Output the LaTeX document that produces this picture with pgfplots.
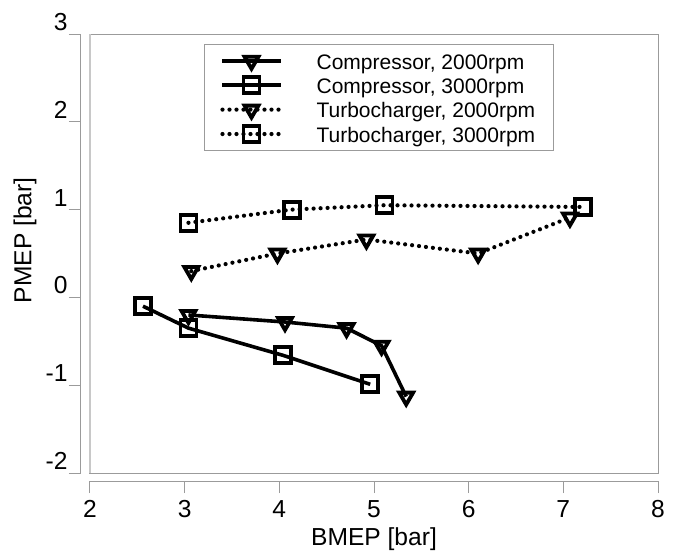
\documentclass[border=0pt]{standalone}
\usepackage{fontspec}
\setmainfont{Liberation Sans}
\usepackage{pgfplots}
\pgfplotsset{compat=1.18}
\usetikzlibrary{calc}
\definecolor{boxgray}{RGB}{155,155,155}
\definecolor{edgegray}{RGB}{200,200,200}

\begin{document}
\begin{tikzpicture}
\begin{axis}[
  name=ax,
  scale only axis,
  width=284pt, height=219.5pt,
  xmin=2, xmax=8, ymin=-2, ymax=3,
  xtick={2,...,8}, ytick={-2,...,3},
  axis x line*=bottom, axis y line*=left,
  axis x line shift=4pt, axis y line shift=4.5pt,
  axis line style={boxgray, line width=0.5pt},
  tick align=outside, major tick length=6pt,
  tick style={boxgray, line width=0.5pt},
  /pgf/number format/assume math mode=true,
  ticklabel style={font=\fontsize{12.3}{14}\selectfont},
  yticklabel style={yshift=6pt, inner sep=0.5pt},
  xlabel={BMEP [bar]}, ylabel={PMEP [bar]},
  every axis x label/.style={at={(axis description cs:0.5,-0.15)}, anchor=center, inner sep=0pt, font=\fontsize{12.3}{14}\selectfont},
  every axis y label/.style={at={(axis description cs:-0.1144,0.53)}, anchor=center, rotate=90, inner sep=0pt, font=\fontsize{12.3}{14}\selectfont},
  clip=false,
  legend style={at={(axis description cs:0.2007,0.9772)}, anchor=north west,
    draw=boxgray, font=\fontsize{10.5}{12}\selectfont, cells={anchor=west},
    inner xsep=8pt, inner ysep=2.1pt, row sep=0pt, column sep=16pt,
    nodes={inner sep=1pt, text height=9.2pt, text depth=1pt}},
  legend image code/.code={\draw[mark repeat=2,mark phase=2] plot coordinates {(0pt,0pt) (14.5pt,0pt) (29pt,0pt)};},
  compr/.style={black, line width=1.8pt},
  turbo/.style={black, line width=2.1pt, line cap=round, dash pattern=on 0pt off 3.5pt},
  tri/.style={mark=triangle, mark size=4pt, mark options={rotate=180, solid, line width=1.9pt}},
  sq/.style={mark=square, mark size=4pt, mark options={solid, line width=1.9pt}},
]
\draw[boxgray, line width=0.5pt] (rel axis cs:0,0) rectangle (rel axis cs:1,1);
\draw[edgegray, line width=1pt] (rel axis cs:0,0) -- (rel axis cs:0,1);

\addplot[compr, tri]
  coordinates {(3.04,-0.20) (4.06,-0.28) (4.71,-0.35) (5.08,-0.55) (5.34,-1.13)};
\addlegendentry{Compressor, 2000rpm}
\addplot[compr, sq]
  coordinates {(2.56,-0.10) (3.04,-0.35) (4.04,-0.66) (4.96,-0.99)};
\addlegendentry{Compressor, 3000rpm}
\addplot[turbo, tri]
  coordinates {(3.07,0.30) (3.98,0.50) (4.92,0.66) (6.10,0.50) (7.07,0.91)};
\addlegendentry{Turbocharger, 2000rpm}
\addplot[turbo, sq]
  coordinates {(3.04,0.85) (4.13,1.00) (5.11,1.05) (7.21,1.03)};
\addlegendentry{Turbocharger, 3000rpm}
\end{axis}
\path ($(ax.south west)+(-45pt,-38.5pt)$) rectangle ($(ax.north east)+(10pt,17pt)$);
\end{tikzpicture}
\end{document}
